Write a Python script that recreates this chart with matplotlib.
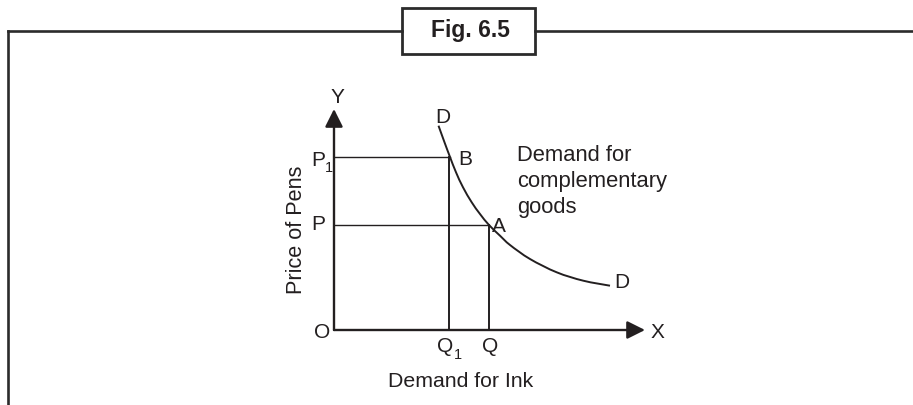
import matplotlib
matplotlib.use("Agg")
import matplotlib.pyplot as plt
from matplotlib.lines import Line2D
from matplotlib.patches import Rectangle, PathPatch
from matplotlib.path import Path

# ---------------- data ----------------
quantity_levels = {"Q1": 11.5, "Q": 15.5}        # demand for ink
price_levels = {"P1": 17.3, "P": 10.5}           # price of pens
point_B = (11.6, 17.3)
point_A = (15.5, 10.5)
curve_q = [10.45, 11.05, 11.6, 12.2, 12.9, 13.77, 14.6, 15.5, 16.6, 17.6, 19.6, 22.27, 24.93, 27.6]
curve_p = [20.43, 18.77, 17.3, 15.77, 14.27, 12.77, 11.6, 10.5, 9.43, 8.5, 7.1, 5.77, 4.93, 4.43]
x_max = 31.1
y_max = 22.1

title_text = "Fig. 6.5"
x_axis_label = "Demand for Ink"
y_axis_label = "Price of Pens"
curve_note = ["Demand for", "complementary", "goods"]

INK = "#231f20"
FONT = ["Liberation Sans", "DejaVu Sans"]
FS = 15.0

W, H = 913, 406
fig = plt.figure(figsize=(W / 100, H / 100), dpi=100)
fig.patch.set_facecolor("white")

# ---------------- page frame (decoration, pixel space) ----------------
fr = fig.add_axes([0, 0, 1, 1])
fr.set_xlim(0, W)
fr.set_ylim(H, 0)
fr.axis("off")
fr_col = "#2b2b2b"
fr.add_line(Line2D([8, 8], [32, H + 5], color=fr_col, lw=1.9, solid_capstyle="projecting"))
fr.add_line(Line2D([8, 402], [32, 32], color=fr_col, lw=1.9, solid_capstyle="projecting"))
fr.add_line(Line2D([535, W + 5], [32, 32], color=fr_col, lw=1.9))
fr.add_patch(Rectangle((402, 8.5), 133, 46.5, fill=False, ec=fr_col, lw=2.0))
fr.text(470.5, 37.3, title_text, ha="center", va="baseline", fontsize=16.5,
        fontweight="bold", family=FONT, color=INK)

# ---------------- diagram axes ----------------
ox, oy = 334, 331
ax = fig.add_axes([ox / W, (H - oy) / H, 311 / W, 221 / H])
ax.set_xlim(0, x_max)
ax.set_ylim(0, y_max)
ax.axis("off")

arrow_kw = dict(arrowstyle="-|>,head_length=0.8,head_width=0.4", mutation_scale=13.5,
                color=INK, lw=1.7, shrinkA=0, shrinkB=0)
ax.annotate("", xy=(x_max, 0), xytext=(0, 0), arrowprops=arrow_kw, annotation_clip=False)
ax.annotate("", xy=(0, y_max), xytext=(0, 0), arrowprops=arrow_kw, annotation_clip=False)

# guide lines
q1, q = quantity_levels["Q1"], quantity_levels["Q"]
p1, p = price_levels["P1"], price_levels["P"]
ax.plot([0, point_B[0]], [p1, p1], color=INK, lw=1.0, clip_on=False)
ax.plot([0, point_A[0]], [p, p], color=INK, lw=1.0, clip_on=False)
ax.plot([q1, q1], [0, p1], color=INK, lw=1.4, clip_on=False)
ax.plot([q, q], [0, p], color=INK, lw=1.4, clip_on=False)

# demand curve: smooth path through the read points (cubic segments)
pts = list(zip(curve_q, curve_p))
n = len(pts)
verts = [pts[0]]
codes = [Path.MOVETO]
for i in range(n - 1):
    p0 = pts[i - 1] if i > 0 else pts[i]
    pa = pts[i]
    pb = pts[i + 1]
    p3 = pts[i + 2] if i + 2 < n else pts[i + 1]
    c1 = (pa[0] + (pb[0] - p0[0]) / 6, pa[1] + (pb[1] - p0[1]) / 6)
    c2 = (pb[0] - (p3[0] - pa[0]) / 6, pb[1] - (p3[1] - pa[1]) / 6)
    verts += [c1, c2, pb]
    codes += [Path.CURVE4] * 3
ax.add_patch(PathPatch(Path(verts, codes), fill=False, ec=INK, lw=1.4, clip_on=False))

tk = dict(family=FONT, color=INK, fontsize=FS, va="baseline", ha="center")
ax.text(0.33, 22.77, "Y", **tk)
ax.text(32.3, -0.7, "X", **tk)
ax.text(-1.15, -0.7, "O", **tk)
ax.text(q1 - 0.4, -2.1, "Q", **tk)
ax.text(q1 + 0.9, -2.83, "1", **{**tk, "fontsize": 10.5})
ax.text(q + 0.1, -2.1, "Q", **tk)
ax.text(-1.6, p1 - 0.8, "P", **tk)
ax.text(-0.5, p1 - 1.37, "1", **{**tk, "fontsize": 10.5})
ax.text(-1.55, p - 0.4, "P", **tk)
ax.text(curve_q[0] + 0.4, 20.8, "D", **tk)
ax.text(point_B[0] + 1.55, p1 - 0.73, "B", **tk)
ax.text(point_A[0] + 1.0, p - 0.57, "A", **tk)
ax.text(curve_q[-1] + 1.15, 4.3, "D", **tk)

ax.text(12.63, -5.57, x_axis_label, **{**tk, "fontsize": 15.3})
ax.text(-3.23, 10.1, y_axis_label, rotation=90, rotation_mode="anchor",
        family=FONT, color=INK, fontsize=15.6, va="baseline", ha="center")

for i, line in enumerate(curve_note):
    ax.text(18.3, 17.0 - 2.62 * i, line, family=FONT, color=INK, fontsize=15.8,
            va="baseline", ha="left")

fig.savefig("out.png", dpi=100, facecolor="white")
